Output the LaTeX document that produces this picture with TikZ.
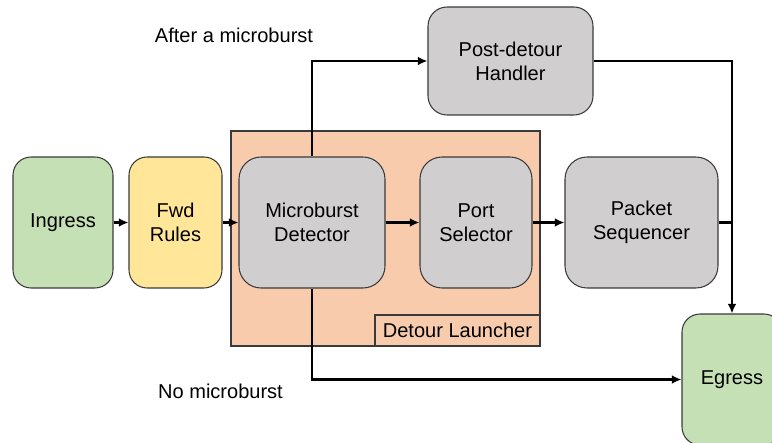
\documentclass[tikz,border=0pt]{standalone}
\usepackage{fontspec}
\setmainfont{Liberation Sans}
\usetikzlibrary{arrows.meta}
\definecolor{ingreen}{HTML}{C5E0B4}
\definecolor{rulesyellow}{HTML}{FFE699}
\definecolor{stagegrey}{HTML}{D0CECE}
\definecolor{launchorange}{HTML}{F8CBAD}
\definecolor{edgegrey}{HTML}{3A3A3A}
\tikzset{
  stage/.style = {align=center, inner sep=0pt, text centered, draw=edgegrey, line width=0.6pt,
    font=\fontsize{11.4}{13.7}\selectfont, minimum height=2.62cm, rounded corners=0.36cm},
  gstage/.style = {stage, fill=stagegrey, rounded corners=0.44cm},
  port/.style = {stage, fill=ingreen, minimum width=2cm},
  launcher/.style = {draw=edgegrey, line width=0.7pt, fill=launchorange, inner sep=0pt},
  caption/.style = {font=\fontsize{11.4}{13.7}\selectfont, inner sep=0pt},
  flow/.style = {line width=1.3pt, -{Latex[length=5.5pt,width=5pt]}},
}

\begin{document}
\begin{tikzpicture}[x=0.02cm, y=-0.02cm]
\clip (0,0) rectangle (772,443);
\fill[white] (0,0) rectangle (772,443);
% detour launcher frame sits behind its stages
\node [launcher, minimum width=6.18cm, minimum height=4.3cm] (L) at (385.5,238.5) {};
\node [launcher, caption, anchor=south east, minimum width=3.3cm, minimum height=0.62cm] (Ltag) at (L.south east) {Detour Launcher};

\node [port] (I) at (63,222.5) {Ingress};
\node [stage, fill=rulesyellow, minimum width=1.86cm] (F) at (175.5,222.5) {Fwd\\Rules};
\node [gstage, minimum width=2.92cm] (D) at (312,222.5) {Microburst\\Detector};
\node [gstage, minimum width=2.24cm] (S) at (476,222.5) {Port\\Selector};
\node [gstage, minimum width=3.06cm] (Q) at (641.5,222.5) {Packet\\Sequencer};
\node [gstage, minimum width=3.3cm, minimum height=2.16cm, rounded corners=0.38cm] (H) at (510.5,61) {Post-detour\\Handler};
\node [port] (E) at (732,379.5) {Egress};

\node [caption] (after) at (234,35) {After a microburst};
\node [caption] (none) at (220.5,391) {No microburst};

\draw [flow] (I) -- (F);
\draw [flow] (F) -- (D);
\draw [flow] (D) -- (S);
\draw [flow] (S) -- (Q);
\draw [flow] (D.north) |- (H.west);
\draw [flow] (H.east) -| (E.north);
\draw [line width=1.3pt] (Q.east) -- (Q.east -| E.north);
\draw [flow] (D.south) |- (E.west);
\end{tikzpicture}
\end{document}
